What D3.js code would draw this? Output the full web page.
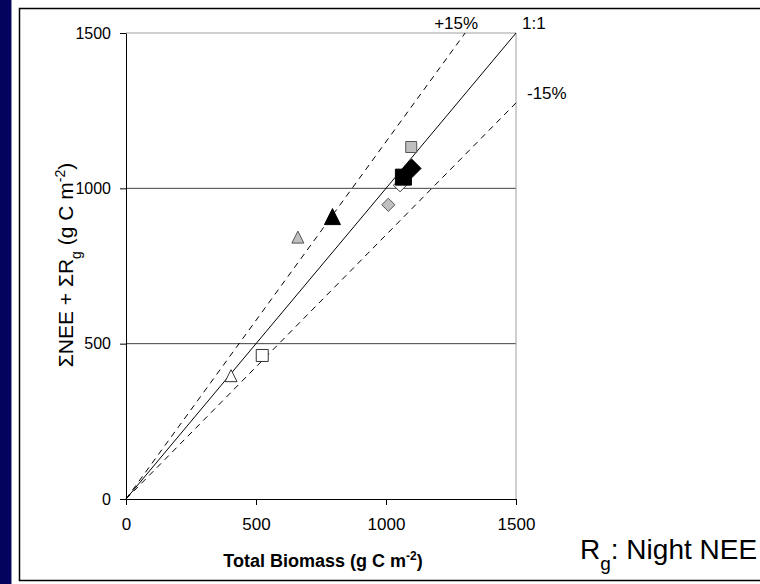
<!DOCTYPE html>
<html>
<head>
<meta charset="utf-8">
<script src="https://cdn.jsdelivr.net/npm/d3@7"></script>
<style>
  body { margin: 0; background: #fff; }
  text { font-family: "Liberation Sans", Arial, sans-serif; fill: #000; }
</style>
</head>
<body>
<div class="chart"></div>
<script>
// data (g C m-2)
const shapes = ["triangle", "square", "diamond"];
const fills = ["white", "gray", "black"];
const triBiomass = [404, 661, 794];
const triFlux = [397, 843, 909];
const sqBiomass = [524, 1097, 1067];
const sqFlux = [462, 1133, 1036];
const diaBiomass = [1054, 1009, 1099];
const diaFlux = [1010, 947, 1064];
const markerSize = [12, 12, 16]; // by fill: white, gray, black
const ticks = [0, 500, 1000, 1500];
const refLines = [{k: 1.15, label: "+15%", dash: "6,5"}, {k: 1, label: "1:1", dash: null}, {k: 0.85, label: "-15%", dash: "6,5"}];

let outWidth = 760, outHeight = 584;
let margin = {left: 126, top: 33};
let width = 390, height = 466;
const font = "'Liberation Sans', Arial, sans-serif";

const svg = d3.select('.chart').append('svg')
  .attr("width", outWidth)
  .attr("height", outHeight);

// slide decoration
svg.append("rect").attr("x", 0).attr("y", 0).attr("width", 11).attr("height", outHeight).attr("fill", "#03035e");
svg.append("line").attr("x1", 11.5).attr("x2", 11.5).attr("y1", 0).attr("y2", outHeight).attr("stroke", "#8a8ab0");
svg.append("rect").attr("x", 19.5).attr("y", 8.5).attr("width", 800).attr("height", 572)
  .attr("fill", "none").attr("stroke", "#000").attr("stroke-width", 1.5);

const g = svg.append("g").attr("transform", `translate(${margin.left}, ${margin.top})`);

let xScale = d3.scaleLinear().domain([0, 1500]).range([0, width]);
let yScale = d3.scaleLinear().domain([0, 1500]).range([height, 0]);

// gridlines
g.selectAll(".grid").data([500, 1000]).enter().append("line")
  .attr("x1", 0).attr("x2", width)
  .attr("y1", d => yScale(d)).attr("y2", d => yScale(d))
  .attr("stroke", "#404040");

// plot border top/right
g.append("path").attr("d", `M0,${yScale(1500)}H${width}V${height}`)
  .attr("fill", "none").attr("stroke", "#a0a0a0");

// reference lines
refLines.forEach(r => {
  let xEnd = Math.min(1500, 1500 / r.k);
  g.append("line")
    .attr("x1", xScale(0)).attr("y1", yScale(0))
    .attr("x2", xScale(xEnd)).attr("y2", yScale(r.k * xEnd))
    .attr("stroke", "#000").attr("stroke-width", 1)
    .attr("stroke-dasharray", r.dash);
});
g.append("text").attr("x", xScale(1500 / 1.15) - 9).attr("y", -4).attr("text-anchor", "middle")
  .style("font-size", "17px").text(refLines[0].label);
g.append("text").attr("x", width + 6).attr("y", -4)
  .style("font-size", "17px").text(refLines[1].label);
g.append("text").attr("x", width + 11).attr("y", yScale(1275) - 4)
  .style("font-size", "17px").text(refLines[2].label);

// axes
const xAxis = d3.axisBottom(xScale).tickValues(ticks).tickFormat(d3.format("d")).tickSize(6).tickSizeOuter(0);
const yAxis = d3.axisLeft(yScale).tickValues(ticks).tickFormat(d3.format("d")).tickSize(6).tickSizeOuter(0);

const gx = g.append("g").attr("transform", `translate(0, ${height})`).call(xAxis);
gx.selectAll("text").attr("y", 19).style("font-size", "17px").style("font-family", font);
const gy = g.append("g").call(yAxis);
gy.selectAll("text").attr("x", -15).style("font-size", "16px").style("font-family", font);
g.selectAll(".domain").attr("stroke", "#000");
g.selectAll(".tick line").attr("stroke", "#000");

// markers
function shapePath(shape, s) {
  let h = s / 2;
  if (shape == "triangle") return `M0,${-h}L${h},${h}L${-h},${h}Z`;
  if (shape == "square") return `M${-h},${-h}H${h}V${h}H${-h}Z`;
  h = h * 1.1;
  return `M0,${-h}L${h},0L0,${h}L${-h},0Z`;
}
const fillColor = {white: "#ffffff", gray: "#c0c0c0", black: "#000000"};
const strokeColor = {white: "#333333", gray: "#555555", black: "#000000"};

let points = [];
const bx = [triBiomass, sqBiomass, diaBiomass];
const fy = [triFlux, sqFlux, diaFlux];
shapes.forEach((s, i) => {
  fills.forEach((f, j) => {
    points.push({shape: s, fill: f, x: bx[i][j], y: fy[i][j], size: markerSize[j] + (s == "diamond" && j == 2 ? 1 : 0)});
  });
});
// draw order as in the picture
const order = ["white", "gray", "black"];
points.sort((a, b) => order.indexOf(a.fill) - order.indexOf(b.fill));
points = points.filter(p => !(p.shape == "square" && p.fill == "gray")).concat(points.filter(p => p.shape == "square" && p.fill == "gray"));

g.selectAll(".pt").data(points).enter().append("path")
  .attr("class", "pt")
  .attr("transform", d => `translate(${xScale(d.x)}, ${yScale(d.y)})`)
  .attr("d", d => shapePath(d.shape, d.fill == "gray" && d.shape == "square" ? 11 : d.size))
  .attr("fill", d => fillColor[d.fill])
  .attr("stroke", d => strokeColor[d.fill])
  .attr("stroke-width", 1);

// axis titles
const yt = svg.append("text")
  .attr("transform", "translate(73, 265) rotate(-90)")
  .attr("text-anchor", "middle")
  .style("font-size", "21px");
yt.append("tspan").text("\u03A3NEE + \u03A3R");
yt.append("tspan").attr("baseline-shift", "sub").style("font-size", "14px").text("g");
yt.append("tspan").text(" (g C m");
yt.append("tspan").attr("baseline-shift", "super").style("font-size", "14px").text("-2");
yt.append("tspan").text(")");

const xt = svg.append("text")
  .attr("x", margin.left + width / 2 + 2).attr("y", 567)
  .attr("text-anchor", "middle")
  .style("font-size", "18px").style("font-weight", "bold");
xt.append("tspan").text("Total Biomass (g C m");
xt.append("tspan").attr("baseline-shift", "super").style("font-size", "12px").text("-2");
xt.append("tspan").text(")");

const rg = svg.append("text").attr("x", 580).attr("y", 559).style("font-size", "28px");
rg.append("tspan").text("R");
rg.append("tspan").attr("baseline-shift", "sub").style("font-size", "19px").text("g");
rg.append("tspan").text(": Night NEE");
</script>
</body>
</html>
